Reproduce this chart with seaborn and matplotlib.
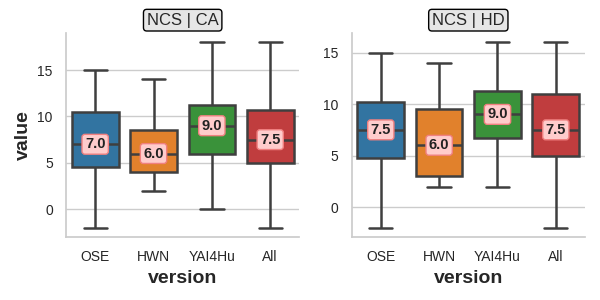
import matplotlib
matplotlib.use("Agg")
import matplotlib.pyplot as plt
import seaborn as sns
import pandas as pd

# five-number summaries: min, q1, median, q3, max
versions = ["OSE", "HWN", "YAI4Hu", "All"]
panels = ["NCS | CA", "NCS | HD"]

ca_ose = [-2, 4.5, 7.0, 10.5, 15]
ca_hwn = [2, 4.0, 6.0, 8.5, 14]
ca_yai = [0, 6.0, 9.0, 11.25, 18]
ca_all = [-2, 5.0, 7.5, 10.75, 18]

hd_ose = [-2, 4.75, 7.5, 10.25, 15]
hd_hwn = [2, 3.0, 6.0, 9.5, 14]
hd_yai = [2, 6.75, 9.0, 11.25, 16]
hd_all = [-2, 5.0, 7.5, 11.0, 16]

series = {
    "NCS | CA": [ca_ose, ca_hwn, ca_yai, ca_all],
    "NCS | HD": [hd_ose, hd_hwn, hd_yai, hd_all],
}

rows = []
for panel in panels:
    for version, vals in zip(versions, series[panel]):
        for v in vals:
            rows.append({"panel": panel, "version": version, "value": v})
df = pd.DataFrame(rows)

sns.set_theme(style="whitegrid")
plt.rcParams["font.family"] = ["Liberation Sans", "DejaVu Sans"]

g = sns.catplot(data=df, x="version", y="value", col="panel", kind="box",
                hue="version", palette="tab10", order=versions,
                whis=(0, 100), linewidth=1.8, linecolor="#3f3f3f",
                height=3, aspect=1, sharey=False, legend=False)

g.set_titles("{col_name}", fontsize=10,
             bbox=dict(boxstyle="round,pad=0.2", fc="#e6e6e6", ec="black"))

for ax, panel in zip(g.axes.flat, panels):
    meds = df[df["panel"] == panel].groupby("version")["value"].median()
    for i, version in enumerate(versions):
        ax.text(i, meds[version], f"{meds[version]:.1f}", ha="center", va="center",
                fontsize=10.5, fontweight="bold", color="#222222",
                bbox=dict(boxstyle="round,pad=0.2", fc="#ffcccc", ec="#f08080", lw=1))
    ax.set_xlabel("version", fontsize=14, fontweight="bold")
    ax.tick_params(labelsize=10)

g.axes.flat[0].set_ylabel("value", fontsize=14, fontweight="bold")
g.axes.flat[1].set_ylabel("")

g.figure.set_size_inches(6, 3)
g.figure.subplots_adjust(left=0.11, right=0.975, top=0.89, bottom=0.21, wspace=0.224)
g.figure.savefig("out.png", dpi=100)
